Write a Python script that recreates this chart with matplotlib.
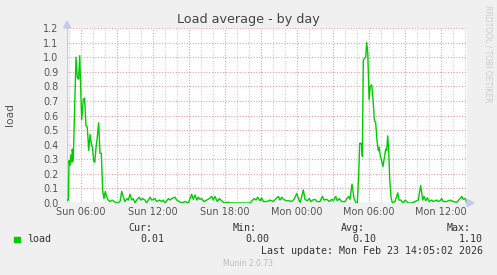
import matplotlib
matplotlib.use('Agg')
import matplotlib.pyplot as plt
import numpy as np

# hours since Sun 00:00, load values
hours = [
    4.90, 4.97, 5.03, 5.11, 5.19, 5.28, 5.30, 5.38, 5.50, 5.61, 5.72, 5.83, 5.92, 6.00,
    6.08, 6.22, 6.33, 6.44, 6.55, 6.67, 6.78, 6.88, 7.00, 7.08, 7.17, 7.28, 7.38, 7.50,
    7.61, 7.72, 7.83, 7.94, 8.05, 8.17, 8.30, 8.44, 8.61, 8.78, 9.00, 9.28, 9.42, 9.55,
    9.69, 9.86, 9.97, 10.11, 10.25, 10.38, 10.53, 10.67, 10.88, 11.03, 11.17, 11.36, 11.50,
    11.78, 11.92, 12.19, 12.33, 12.55, 12.75, 12.88, 13.03, 13.30, 13.44, 13.58, 13.86,
    14.00, 14.22, 14.42, 14.69, 14.97, 15.25, 15.38, 15.53, 15.67, 15.80, 15.94, 16.08,
    16.28, 16.50, 16.72, 16.92, 17.05, 17.19, 17.38, 17.55, 17.75, 17.97, 18.30, 18.44,
    19.28, 20.11, 20.44, 20.61, 20.75, 20.94, 21.08, 21.22, 21.50, 21.78, 22.05, 22.28,
    22.47, 22.61, 22.75, 22.88, 23.17, 23.38, 23.58, 23.78, 24.00, 24.19, 24.30, 24.55,
    24.69, 24.88, 25.05, 25.17, 25.33, 25.53, 25.67, 25.94, 26.13, 26.28, 26.50, 26.72,
    26.92, 27.05, 27.25, 27.38, 27.55, 27.75, 28.03, 28.17, 28.33, 28.44, 28.61, 28.78,
    28.94, 29.05, 29.17, 29.25, 29.36, 29.42, 29.47, 29.55, 29.63, 29.75, 29.83, 29.92,
    30.03, 30.13, 30.25, 30.36, 30.47, 30.58, 30.69, 30.80, 30.88, 30.97, 31.08, 31.19,
    31.30, 31.42, 31.50, 31.58, 31.67, 31.75, 31.86, 31.97, 32.19, 32.42, 32.53, 32.69,
    32.88, 33.03, 33.17, 33.30, 33.58, 33.86, 34.13, 34.33, 34.50, 34.61, 34.75, 34.88,
    35.05, 35.25, 35.38, 35.67, 35.80, 35.94, 36.08, 36.22, 36.50, 36.78, 37.05, 37.33,
    37.61, 37.75, 37.88, 38.03, 38.17,
]
load = [
    0.02, 0.02, 0.29, 0.26, 0.33, 0.28, 0.37, 0.29, 0.65, 1.00, 0.86, 0.85, 1.01, 0.80,
    0.57, 0.71, 0.72, 0.53, 0.52, 0.36, 0.47, 0.41, 0.37, 0.29, 0.28, 0.38, 0.45, 0.55,
    0.34, 0.34, 0.09, 0.03, 0.08, 0.04, 0.02, 0.01, 0.02, 0.01, 0.00, 0.01, 0.08, 0.04,
    0.01, 0.03, 0.02, 0.06, 0.02, 0.03, 0.00, 0.02, 0.04, 0.02, 0.03, 0.02, 0.00,
    0.04, 0.02, 0.03, 0.01, 0.02, 0.01, 0.02, 0.00, 0.03, 0.02, 0.03, 0.04,
    0.02, 0.01, 0.00, 0.01, 0.00, 0.06, 0.025, 0.055, 0.02, 0.04, 0.025, 0.03,
    0.01, 0.02, 0.03, 0.045, 0.02, 0.045, 0.01, 0.03, 0.015, 0.00, 0.005, 0.00,
    0.00, 0.00, 0.03, 0.02, 0.04, 0.015, 0.035, 0.01, 0.01, 0.02, 0.01, 0.03,
    0.045, 0.02, 0.04, 0.025, 0.015, 0.015, 0.01, 0.025, 0.065, 0.02, 0.005, 0.09,
    0.025, 0.015, 0.03, 0.01, 0.02, 0.025, 0.01, 0.01, 0.045, 0.02, 0.025, 0.01,
    0.025, 0.015, 0.045, 0.015, 0.03, 0.01, 0.01, 0.03, 0.045, 0.025, 0.13, 0.03,
    0.00, 0.00, 0.20, 0.41, 0.41, 0.39, 0.32, 0.98, 0.99, 1.00, 1.10, 1.03,
    0.71, 0.80, 0.81, 0.71, 0.57, 0.55, 0.43, 0.36, 0.38, 0.32, 0.29, 0.25,
    0.31, 0.37, 0.36, 0.46, 0.36, 0.16, 0.04, 0.00, 0.01, 0.07, 0.02, 0.02,
    0.00, 0.02, 0.01, 0.00, 0.00, 0.01, 0.02, 0.12, 0.02, 0.045, 0.015, 0.035,
    0.01, 0.02, 0.01, 0.02, 0.01, 0.015, 0.03, 0.01, 0.01, 0.02, 0.01, 0.005,
    0.03, 0.045, 0.025, 0.03, 0.005,
]

tick_hours = [6, 12, 18, 24, 30, 36]
tick_labels = ['Sun 06:00', 'Sun 12:00', 'Sun 18:00', 'Mon 00:00', 'Mon 06:00', 'Mon 12:00']

legend_cols = ['Cur:', 'Min:', 'Avg:', 'Max:']
legend_vals = ['0.01', '0.00', '0.10', '1.10']

W, H = 497, 275
fig = plt.figure(figsize=(W / 100, H / 100), dpi=100, facecolor='#f0f0f0')
ax = fig.add_axes([67 / W, 1 - 203 / H, 400 / W, 175 / H], facecolor='white')

t_start, t_end = 4.86, 38.19
ax.set_xlim(t_start, t_end)
ax.set_ylim(0, 1.2)

# grid: minor grey every hour, major red every 3 h / 0.1
for h in np.arange(5, 39, 1):
    c = '#eba0a0' if h % 3 == 0 else '#d0d0d0'
    ax.axvline(h, color=c, lw=0.8, ls=(0, (1, 1.5)), zorder=1)
for v in np.arange(0.1, 1.25, 0.1):
    ax.axhline(v, color='#eba0a0', lw=0.8, ls=(0, (1, 1.5)), zorder=1)

ax.plot(hours, load, color='#00cc00', lw=1.0, zorder=3)

for s in ax.spines.values():
    s.set_visible(False)
ax.axhline(0, color='#c8c8f0', lw=1, zorder=2)
ax.axvline(t_start, color='#c8c8f0', lw=1, zorder=2)
# axis arrows
fig.patches.append(plt.Polygon([[67 / W - 3.5 / W, 1 - 28 / H], [67 / W + 3.5 / W, 1 - 28 / H],
                                [67 / W, 1 - 21 / H]], closed=True, transform=fig.transFigure,
                               color='#c8c8f0', zorder=5))
fig.patches.append(plt.Polygon([[467 / W, 1 - 199.5 / H], [467 / W, 1 - 206.5 / H],
                                [474 / W, 1 - 203 / H]], closed=True, transform=fig.transFigure,
                               color='#c8c8f0', zorder=5))

ax.set_yticks(np.arange(0, 1.25, 0.1))
ax.set_yticklabels([f'{v:.1f}' for v in np.arange(0, 1.25, 0.1)])
ax.set_xticks(tick_hours)
ax.set_xticklabels(tick_labels)
ax.tick_params(axis='both', length=0, labelsize=7, colors='#555555', pad=3)
ax.tick_params(axis='y', pad=6)

fig.text(248 / W, 1 - 19 / H, 'Load average - by day', ha='center', va='center',
         fontsize=9.2, color='#444444')
fig.text(10 / W, 1 - 115 / H, 'load', rotation=90, ha='center', va='center',
         fontsize=7.7, color='#555555')
fig.text(488 / W, 1 - 5 / H, 'RRDTOOL / TOBI OETIKER', rotation=270, ha='center', va='top',
         fontsize=5.5, color='#cccccc')

mono = 'DejaVu Sans Mono'
fig.patches.append(plt.Rectangle((14 / W, 1 - 242 / H), 5.5 / W, 5.5 / H,
                                 transform=fig.transFigure, color='#00cc00'))
fig.text(27 / W, 1 - 239.5 / H, 'load', ha='left', va='center', family=mono,
         fontsize=7.2, color='#333333')
col_right = [152, 257, 364.7, 471]
for x, head, val in zip(col_right, legend_cols, legend_vals):
    fig.text(x / W, 1 - 228 / H, head, ha='right', va='center', family=mono,
             fontsize=7.2, color='#333333')
    fig.text((x + 12) / W, 1 - 239.5 / H, val, ha='right', va='center', family=mono,
             fontsize=7.2, color='#333333')
fig.text(483 / W, 1 - 251 / H, 'Last update: Mon Feb 23 14:05:02 2026', ha='right',
         va='center', family=mono, fontsize=7.2, color='#333333')
fig.text(248 / W, 1 - 264 / H, 'Munin 2.0.73', ha='center', va='center',
         fontsize=5.5, color='#bbbbbb')

fig.savefig('out.png', dpi=100, facecolor=fig.get_facecolor())
